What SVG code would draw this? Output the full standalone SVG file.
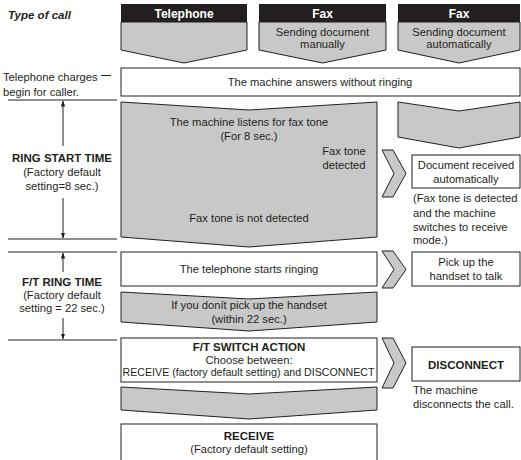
<svg xmlns="http://www.w3.org/2000/svg" width="521" height="460" viewBox="0 0 521 460">
<style>
text{font-family:"Liberation Sans",Arial,sans-serif;font-size:11.2px;fill:#231f20}
.b{font-weight:bold;font-size:11.5px}
.w{fill:#ffffff;font-weight:bold;font-size:12px}
.c{text-anchor:middle}
.g{fill:#c8c8c8;stroke:#231f20;stroke-width:1}
.box{fill:#ffffff;stroke:#231f20;stroke-width:1}
.hd{fill:#231f20}
.ln{stroke:#231f20;stroke-width:1;fill:none}
</style>
<defs>
<marker id="ah" viewBox="0 0 6 6" refX="5.5" refY="3" markerWidth="6" markerHeight="6" orient="auto-start-reverse" markerUnits="userSpaceOnUse">
<path d="M0,0.8 L6,3 L0,5.2 Z" fill="#231f20"/>
</marker>
</defs>
<text class="b" x="8" y="19" font-style="italic">Type of call</text>
<g id="hdr-telephone">
<rect class="hd" x="121" y="4" width="126" height="18"/>
<path class="g" d="M121,22 L247,22 L247,50 L184,63 L121,50 Z"/>
<text class="w c" x="184" y="17.5">Telephone</text>
</g>
<g id="hdr-fax-manual">
<rect class="hd" x="259" y="4" width="127" height="18"/>
<path class="g" d="M259,22 L386,22 L386,50 L322.5,63 L259,50 Z"/>
<text class="w c" x="322.5" y="17.5">Fax</text>
<text class="c" x="322.5" y="35.5">Sending document</text>
<text class="c" x="322.5" y="48">manually</text>
</g>
<g id="hdr-fax-auto">
<rect class="hd" x="398" y="4" width="122" height="18"/>
<path class="g" d="M398,22 L520,22 L520,50 L459,63 L398,50 Z"/>
<text class="w c" x="459" y="17.5">Fax</text>
<text class="c" x="459" y="35.5">Sending document</text>
<text class="c" x="459" y="48">automatically</text>
</g>
<g id="answers">
<rect class="box" x="121" y="68" width="399" height="28"/>
<text class="c" x="320" y="86">The machine answers without ringing</text>
</g>
<g id="charges-label">
<text x="3" y="80.5">Telephone charges</text>
<text x="3" y="95.5">begin for caller.</text>
</g>
<g id="listens">
<path class="g" d="M121,102 L249,110 L377,102 L377,237 L249,247 L121,237 Z"/>
<text class="c" x="249" y="126">The machine listens for fax tone</text>
<text class="c" x="249" y="140">(For 8 sec.)</text>
<text class="c" x="344" y="155">Fax tone</text>
<text class="c" x="344" y="169">detected</text>
<text class="c" x="249" y="222">Fax tone is not detected</text>
</g>
<g id="auto-chevron">
<path class="g" d="M398,102 L459,111 L520,102 L520,137 L459,148 L398,137 Z"/>
</g>
<g id="doc-received">
<rect class="box" x="412" y="155" width="108" height="33"/>
<text class="c" x="466" y="169">Document received</text>
<text class="c" x="466" y="183">automatically</text>
<text x="413" y="202">(Fax tone is detected</text>
<text x="413" y="216.5">and the machine</text>
<text x="413" y="230.5">switches to receive</text>
<text x="413" y="244">mode.)</text>
</g>
<g id="ring-start-label">
<text class="b c" x="62" y="162">RING START TIME</text>
<text class="c" x="62" y="176">(Factory default</text>
<text class="c" x="62" y="190">setting=8 sec.)</text>
</g>
<g id="starts-ringing">
<rect class="box" x="121" y="252" width="256" height="34"/>
<text class="c" x="249" y="273">The telephone starts ringing</text>
</g>
<g id="pick-up">
<rect class="box" x="412" y="252" width="108" height="34"/>
<text class="c" x="466" y="266">Pick up the</text>
<text class="c" x="466" y="280">handset to talk</text>
</g>
<g id="ft-ring-label">
<text class="b c" x="62" y="286">F/T RING TIME</text>
<text class="c" x="62" y="299">(Factory default</text>
<text class="c" x="62" y="312">setting = 22 sec.)</text>
</g>
<g id="no-pickup">
<path class="g" d="M121,292 L249,299 L377,292 L377,322 L249,331 L121,322 Z"/>
<text class="c" x="249" y="309">If you donít pick up the handset</text>
<text class="c" x="249" y="323">(within 22 sec.)</text>
</g>
<g id="ft-switch">
<rect class="box" x="121" y="338" width="256" height="44"/>
<text class="b c" x="249" y="351">F/T SWITCH ACTION</text>
<text class="c" x="249" y="363.5">Choose between:</text>
<text class="c" x="248.5" y="376" font-size="11" textLength="252" lengthAdjust="spacingAndGlyphs">RECEIVE (factory default setting) and DISCONNECT</text>
</g>
<g id="disconnect">
<rect class="box" x="412" y="347" width="108" height="34"/>
<text class="b c" x="466" y="369">DISCONNECT</text>
<text x="413" y="394">The machine</text>
<text x="413" y="408">disconnects the call.</text>
</g>
<g id="to-receive">
<path class="g" d="M121,387 L249,394 L377,387 L377,410 L249,419 L121,410 Z"/>
</g>
<g id="receive">
<rect class="box" x="121" y="424" width="256" height="40"/>
<text class="b c" x="249" y="440">RECEIVE</text>
<text class="c" x="249" y="453">(Factory default setting)</text>
</g>
<g id="connectors">
<path class="g" d="M382,150 L393,150 L406,173.5 L393,197 L382,197 L394,173.5 Z"/>
<path class="g" d="M382,251 L393,251 L406,269.5 L393,288 L382,288 L394,269.5 Z"/>
<path class="g" d="M382,338 L393,338 L406,363 L393,388 L382,388 L394,363 Z"/>
<line class="ln" x1="101" y1="75.5" x2="111" y2="75.5"/>
<line class="ln" x1="8" y1="100" x2="117" y2="100"/>
<line class="ln" x1="8" y1="239" x2="117" y2="239"/>
<line class="ln" x1="8" y1="252" x2="117" y2="252"/>
<line class="ln" x1="8" y1="340" x2="117" y2="340"/>
<line class="ln" x1="63" y1="146" x2="63" y2="101" marker-end="url(#ah)"/>
<line class="ln" x1="63" y1="198" x2="63" y2="238" marker-end="url(#ah)"/>
<line class="ln" x1="63" y1="272" x2="63" y2="253" marker-end="url(#ah)"/>
<line class="ln" x1="63" y1="318" x2="63" y2="339" marker-end="url(#ah)"/>
</g>
</svg>
